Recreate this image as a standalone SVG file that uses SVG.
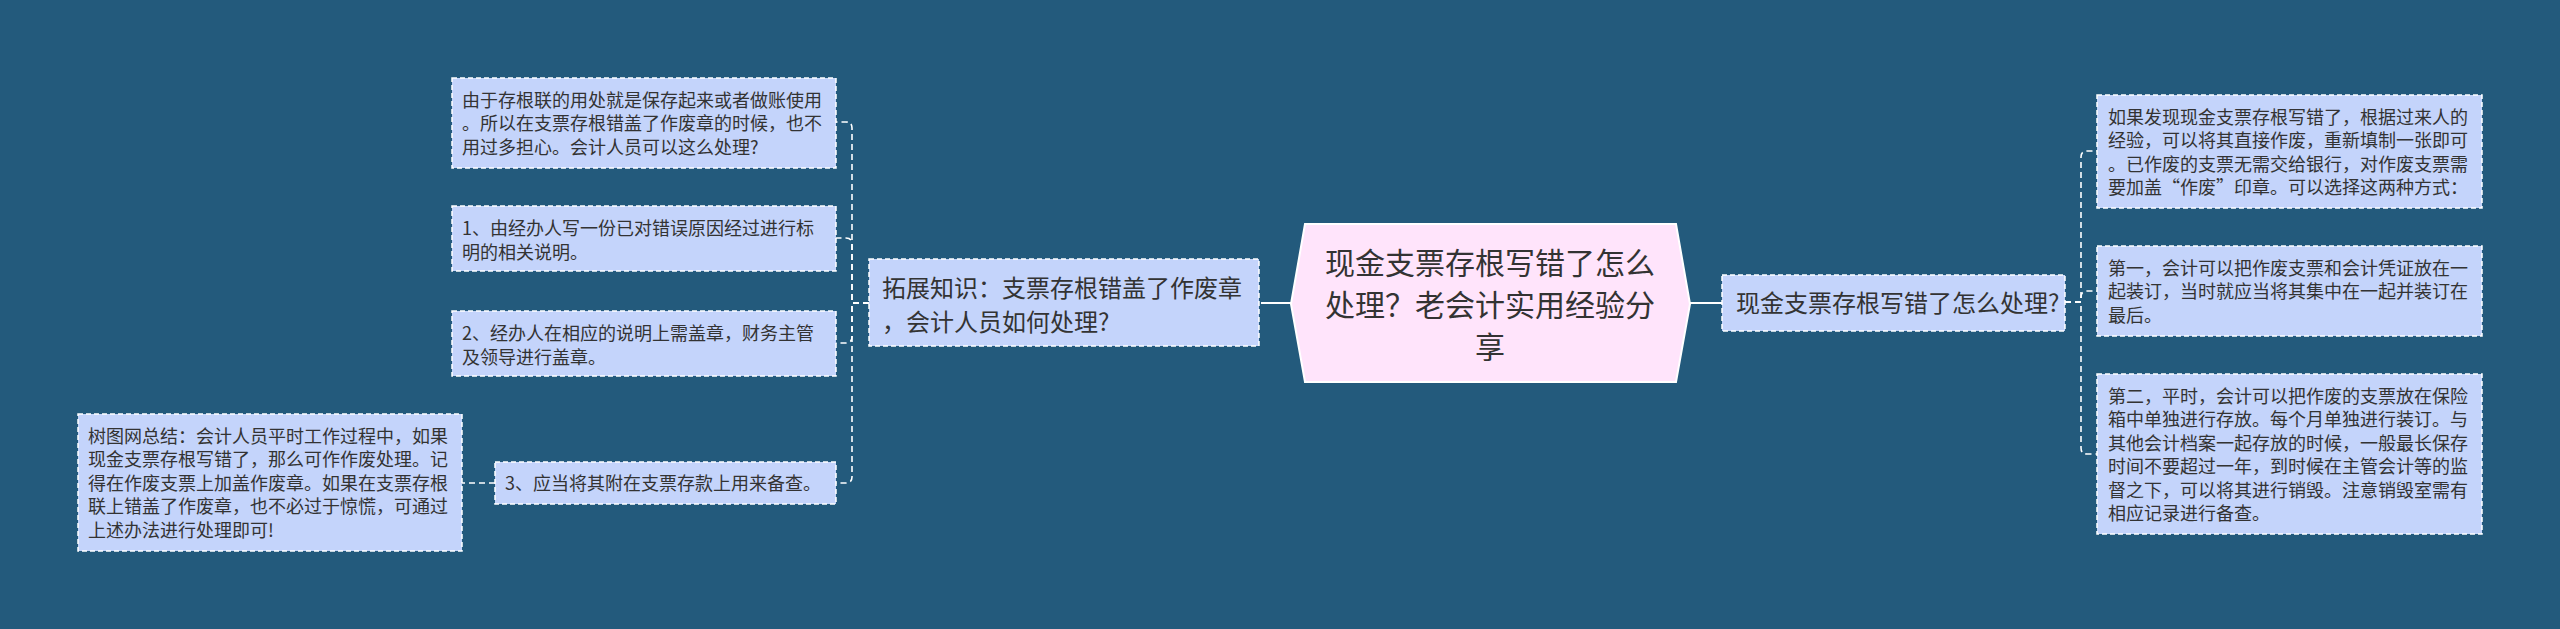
<svg xmlns="http://www.w3.org/2000/svg" width="2560" height="629" viewBox="0 0 2560 629">
<style>
text{font-family:"Noto Sans CJK SC","Noto Sans",sans-serif;fill:#333333}
.box{fill:#c4d4fb;stroke:#ffffff;stroke-width:1.5;stroke-dasharray:5 3}
.t18{font-size:18px}
.t24{font-size:24px}
.t30{font-size:30px}
.dash{fill:none;stroke:#ffffff;stroke-width:1.6;stroke-dasharray:6 4}
.solid{fill:none;stroke:#ffffff;stroke-width:2}
</style>
<rect x="0" y="0" width="2560" height="629" fill="#235a7c"/>
<g id="connectors">
<path class="solid" d="M1291,303 H1261"/>
<path class="solid" d="M1690,303 H1722"/>
<path class="dash" d="M869,303 H852 V128 Q852,122 846,122 H836"/>
<path class="dash" d="M869,303 H852 V244 Q852,238 846,238 H836"/>
<path class="dash" d="M869,303 H852 V337 Q852,343 846,343 H836"/>
<path class="dash" d="M869,303 H852 V477 Q852,483 846,483 H836"/>
<path class="dash" d="M495,483 H462"/>
<path class="dash" d="M2065,302 H2081 V157 Q2081,151 2087,151 H2097"/>
<path class="dash" d="M2065,302 H2081 V297 Q2081,291 2087,291 H2097"/>
<path class="dash" d="M2065,302 H2081 V448 Q2081,454 2087,454 H2097"/>
</g>
<g id="center">
<polygon points="1291,304 1305,224 1676,224 1690,304 1676,382 1305,382" fill="#ffe4fb" stroke="#ffffff" stroke-width="2"/>
<text class="t30" text-anchor="middle" x="1490" y="274">现金支票存根写错了怎么</text>
<text class="t30" text-anchor="middle" x="1490" y="316">处理？老会计实用经验分</text>
<text class="t30" text-anchor="middle" x="1490" y="358">享</text>
</g>
<g id="right-main">
<rect class="box" x="1722" y="275" width="343" height="56"/>
<text class="t24" x="1736" y="312">现金支票存根写错了怎么处理?</text>
</g>
<g id="left-main">
<rect class="box" x="869" y="259" width="390" height="87"/>
<text class="t24" x="882" y="297">拓展知识：支票存根错盖了作废章</text>
<text class="t24" x="882" y="331">，会计人员如何处理?</text>
</g>
<g id="left-a">
<rect class="box" x="452" y="78" width="384" height="90"/>
<text class="t18" x="462" y="106.5">由于存根联的用处就是保存起来或者做账使用</text>
<text class="t18" x="462" y="130">。所以在支票存根错盖了作废章的时候，也不</text>
<text class="t18" x="462" y="153.5">用过多担心。会计人员可以这么处理?</text>
</g>
<g id="left-b">
<rect class="box" x="452" y="206" width="384" height="65"/>
<text class="t18" x="462" y="235">1、由经办人写一份已对错误原因经过进行标</text>
<text class="t18" x="462" y="258.5">明的相关说明。</text>
</g>
<g id="left-c">
<rect class="box" x="452" y="311" width="384" height="65"/>
<text class="t18" x="462" y="340">2、经办人在相应的说明上需盖章，财务主管</text>
<text class="t18" x="462" y="363.5">及领导进行盖章。</text>
</g>
<g id="left-d">
<rect class="box" x="495" y="462" width="341" height="42"/>
<text class="t18" x="505" y="489.5">3、应当将其附在支票存款上用来备查。</text>
</g>
<g id="left-e">
<rect class="box" x="78" y="414" width="384" height="137"/>
<text class="t18" x="88" y="442.5">树图网总结：会计人员平时工作过程中，如果</text>
<text class="t18" x="88" y="466">现金支票存根写错了，那么可作作废处理。记</text>
<text class="t18" x="88" y="489.5">得在作废支票上加盖作废章。如果在支票存根</text>
<text class="t18" x="88" y="513">联上错盖了作废章，也不必过于惊慌，可通过</text>
<text class="t18" x="88" y="536.5">上述办法进行处理即可!</text>
</g>
<g id="right-1">
<rect class="box" x="2097" y="95" width="385" height="113"/>
<text class="t18" x="2108" y="123.5">如果发现现金支票存根写错了，根据过来人的</text>
<text class="t18" x="2108" y="147">经验，可以将其直接作废，重新填制一张即可</text>
<text class="t18" x="2108" y="170.5">。已作废的支票无需交给银行，对作废支票需</text>
<text class="t18" x="2108" y="194">要加盖“作废”印章。可以选择这两种方式：</text>
</g>
<g id="right-2">
<rect class="box" x="2097" y="246" width="385" height="90"/>
<text class="t18" x="2108" y="274.5">第一，会计可以把作废支票和会计凭证放在一</text>
<text class="t18" x="2108" y="298">起装订，当时就应当将其集中在一起并装订在</text>
<text class="t18" x="2108" y="321.5">最后。</text>
</g>
<g id="right-3">
<rect class="box" x="2097" y="374" width="385" height="160"/>
<text class="t18" x="2108" y="402.5">第二，平时，会计可以把作废的支票放在保险</text>
<text class="t18" x="2108" y="426">箱中单独进行存放。每个月单独进行装订。与</text>
<text class="t18" x="2108" y="449.5">其他会计档案一起存放的时候，一般最长保存</text>
<text class="t18" x="2108" y="473">时间不要超过一年，到时候在主管会计等的监</text>
<text class="t18" x="2108" y="496.5">督之下，可以将其进行销毁。注意销毁室需有</text>
<text class="t18" x="2108" y="520">相应记录进行备查。</text>
</g>
</svg>
